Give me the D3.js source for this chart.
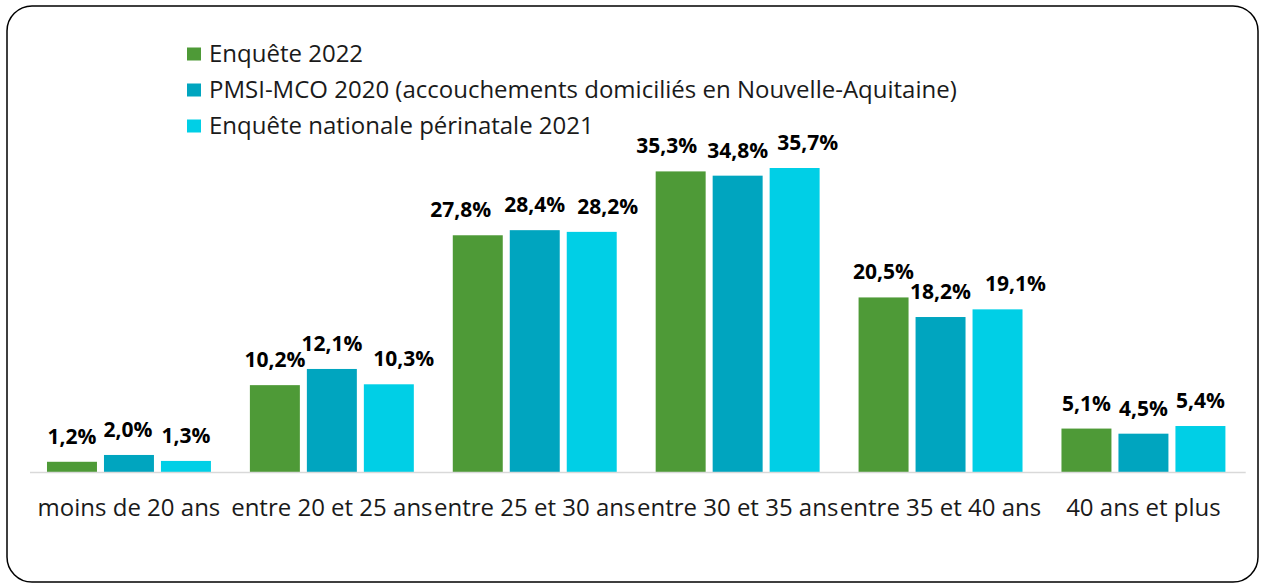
<!DOCTYPE html>
<html>
<head>
<meta charset="utf-8">
<script src="https://cdn.jsdelivr.net/npm/d3@7"></script>
<style>
  html, body { margin: 0; padding: 0; background: #fff; }
  svg { display: block; font-family: "Open Sans", sans-serif; }
</style>
</head>
<body>
<div id="chart"></div>
<script>
const categories = ['moins de 20 ans', 'entre 20 et 25 ans', 'entre 25 et 30 ans', 'entre 30 et 35 ans', 'entre 35 et 40 ans', '40 ans et plus'];
const seriesNames = ['Enquête 2022', 'PMSI-MCO 2020 (accouchements domiciliés en Nouvelle-Aquitaine)', 'Enquête nationale périnatale 2021'];
const enquete2022 = [1.2, 10.2, 27.8, 35.3, 20.5, 5.1];
const pmsi2020 = [2.0, 12.1, 28.4, 34.8, 18.2, 4.5];
const enp2021 = [1.3, 10.3, 28.2, 35.7, 19.1, 5.4];
const colors = ['#4e9a37', '#00a5bf', '#00cfe6'];

const width = 1266, height = 588;
const series = [enquete2022, pmsi2020, enp2021];

// Labels that the original moved sideways to avoid collisions (px, per series)
const labelNudge = [
  [0, 0, -17, -14, 0, 0],
  [-1, 0, 0, 0, 0, 0],
  [0, 15, 16, 13, 18, 0]
];

const svg = d3.select('#chart').append('svg')
  .attr('width', width)
  .attr('height', height);

// Outer rounded frame
svg.append('rect')
  .attr('x', 7).attr('y', 6)
  .attr('width', 1251).attr('height', 576)
  .attr('rx', 25)
  .attr('fill', '#fff')
  .attr('stroke', '#000')
  .attr('stroke-width', 1.5);

const plotLeft = 26.7, plotRight = 1245.7, baseline = 472;

const x0 = d3.scaleBand()
  .domain(categories)
  .range([plotLeft, plotRight])
  .paddingInner(0.192)
  .paddingOuter(0.1);

const x1 = d3.scaleBand()
  .domain(d3.range(series.length))
  .range([0, x0.bandwidth()])
  .paddingInner(0.123);

const y = d3.scaleLinear()
  .domain([0, 35.7])
  .range([baseline, 168]);

const fmt = v => d3.format('.1f')(v).replace('.', ',') + '%';

const groups = svg.append('g').selectAll('g')
  .data(categories)
  .enter().append('g')
  .attr('transform', d => `translate(${x0(d)},0)`);

groups.selectAll('rect')
  .data((d, i) => series.map((s, j) => ({ j, v: s[i] })))
  .enter().append('rect')
  .attr('x', d => x1(d.j))
  .attr('y', d => y(d.v))
  .attr('width', x1.bandwidth())
  .attr('height', d => baseline - y(d.v))
  .attr('fill', d => colors[d.j]);

groups.selectAll('text')
  .data((d, i) => series.map((s, j) => ({ j, i, v: s[i] })))
  .enter().append('text')
  .attr('x', d => x1(d.j) + x1.bandwidth() / 2 + labelNudge[d.j][d.i])
  .attr('y', d => y(d.v) - 18)
  .attr('text-anchor', 'middle')
  .attr('font-size', '21px')
  .attr('font-weight', 700)
  .attr('fill', '#000')
  .text(d => fmt(d.v));

// Axis line
svg.append('line')
  .attr('x1', 30).attr('x2', plotRight)
  .attr('y1', baseline + 0.5).attr('y2', baseline + 0.5)
  .attr('stroke', '#d9d9d9')
  .attr('stroke-width', 1.5);

// Category labels
svg.append('g').selectAll('text')
  .data(categories)
  .enter().append('text')
  .attr('x', d => x0(d) + x0.bandwidth() / 2)
  .attr('y', 516)
  .attr('text-anchor', 'middle')
  .attr('font-size', '24px')
  .attr('fill', '#1a1a1a')
  .text(d => d);

// Legend
const legend = svg.append('g').selectAll('g')
  .data(seriesNames)
  .enter().append('g')
  .attr('transform', (d, i) => `translate(187,${54 + i * 36})`);

legend.append('rect')
  .attr('x', 0).attr('y', -6.5)
  .attr('width', 14).attr('height', 13)
  .attr('fill', (d, i) => colors[i]);

legend.append('text')
  .attr('x', 22)
  .attr('y', 8)
  .attr('font-size', '24px')
  .attr('fill', '#1a1a1a')
  .text(d => d);
</script>
</body>
</html>
